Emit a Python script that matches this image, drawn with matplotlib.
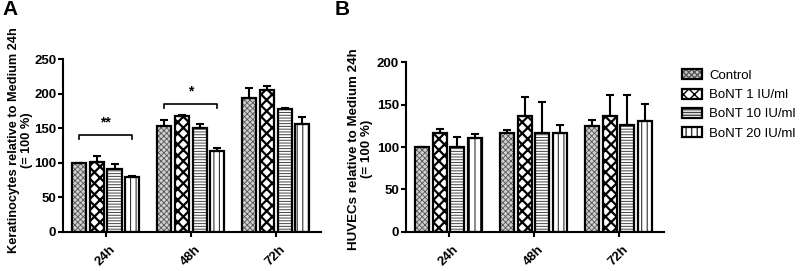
import numpy as np
import matplotlib.pyplot as plt
from matplotlib.legend_handler import HandlerTuple

plt.rcParams['font.family'] = ['Liberation Sans', 'DejaVu Sans']

times = ['24h', '48h', '72h']
groups = ['Control', 'BoNT 1 IU/ml', 'BoNT 10 IU/ml', 'BoNT 20 IU/ml']

# panel A: keratinocytes (mean, upper SEM)
kera_mean = [[100, 153, 194],
             [101, 168, 206],
             [91, 151, 178],
             [80, 117, 157]]
kera_err = [[0, 9, 14],
            [9, 1, 5],
            [7, 5, 2],
            [1, 5, 9]]

# panel B: HUVECs
huvec_mean = [[100, 117, 125],
              [116, 137, 136],
              [100, 117, 126],
              [111, 117, 131]]
huvec_err = [[0, 3, 7],
             [5, 22, 25],
             [12, 36, 35],
             [4, 9, 20]]

# hatch fill styles (face, hatch, hatch colour, hatch lw)
styles = [('#d0d0d0', 'xxxxxx', '#555555', 0.6),
          ('white', 'xxx', 'black', 1.6),
          ('white', '------', '#444444', 0.7),
          ('white', '|||', '#333333', 0.8)]

width = 0.165
step = 0.207


def draw_panel(ax, means, errs, ymax):
    x = np.arange(len(times))
    handles = []
    for i, (m, e) in enumerate(zip(means, errs)):
        face, hatch, hcol, hlw = styles[i]
        xi = x + (i - 1.5) * step
        # hatch layer (hatch colour follows edgecolor)
        hb = ax.bar(xi, m, width, color=face, edgecolor=hcol, hatch=hatch,
                    linewidth=0, zorder=2)
        for p in hb:
            if hasattr(p, 'set_hatch_linewidth'):
                p.set_hatch_linewidth(hlw)
        # outline layer
        ob = ax.bar(xi, m, width, fill=False, edgecolor='black', linewidth=1.6, zorder=3)
        ax.errorbar(xi, m, yerr=[np.zeros(len(e)), e], fmt='none', ecolor='black',
                    elinewidth=1.5, capsize=3, capthick=1.5, zorder=4)
        handles.append((hb[0], ob[0]))
    ax.set_xlim(-0.5, 2.53)
    ax.set_ylim(0, ymax)
    ax.set_yticks(np.arange(0, ymax + 1, 50))
    ax.set_xticks(x)
    ax.set_xticklabels(times, rotation=45, ha='center', fontweight='bold', fontsize=9.5)
    for lab in ax.get_yticklabels():
        lab.set_fontweight('bold')
        lab.set_fontsize(9.5)
    ax.spines['top'].set_visible(False)
    ax.spines['right'].set_visible(False)
    ax.spines['left'].set_linewidth(1.5)
    ax.spines['bottom'].set_linewidth(1.5)
    ax.tick_params(axis='both', width=1.5, length=3.5, pad=1.5)
    ax.tick_params(axis='x', pad=5)
    return handles


fig = plt.figure(figsize=(8, 2.71), dpi=100)
axA = fig.add_axes([0.079, 0.144, 0.322, 0.637])
axB = fig.add_axes([0.5075, 0.144, 0.322, 0.627])

handles = draw_panel(axA, kera_mean, kera_err, 250)
draw_panel(axB, huvec_mean, huvec_err, 200)

axA.set_ylabel('Keratinocytes relative to Medium 24h\n(= 100 %)', fontweight='bold',
               fontsize=9.2, linespacing=1.1)
axA.yaxis.set_label_coords(-0.118, 0.53)
axB.set_ylabel('HUVECs relative to Medium 24h\n(= 100 %)', fontweight='bold',
               fontsize=9.6, linespacing=1.1)
axB.yaxis.set_label_coords(-0.128, 0.49)

# significance brackets
def bracket(ax, x1, x2, y, h, text):
    ax.plot([x1, x1, x2, x2], [y - h, y, y, y - h], color='black', lw=1.2, zorder=5)
    ax.text((x1 + x2) / 2, y + 8, text, ha='center', va='bottom', fontsize=10,
            fontweight='bold')

bracket(axA, 0 - 1.5 * step, 0 + 1.5 * step, 141, 6, '**')
bracket(axA, 1 - 1.5 * step, 1 + 1.5 * step, 186, 7, '*')

fig.text(0.003, 1.0, 'A', fontsize=15, fontweight='bold', va='top')
fig.text(0.418, 1.0, 'B', fontsize=15, fontweight='bold', va='top')

fig.legend(handles, groups, loc='upper left',
           handler_map={tuple: HandlerTuple(ndivide=1, pad=0)},
           bbox_to_anchor=(0.838, 0.788), frameon=False, fontsize=9.5,
           handlelength=1.5, handleheight=0.8, handletextpad=0.55, labelspacing=0.5)

fig.savefig('out.png', dpi=100)
